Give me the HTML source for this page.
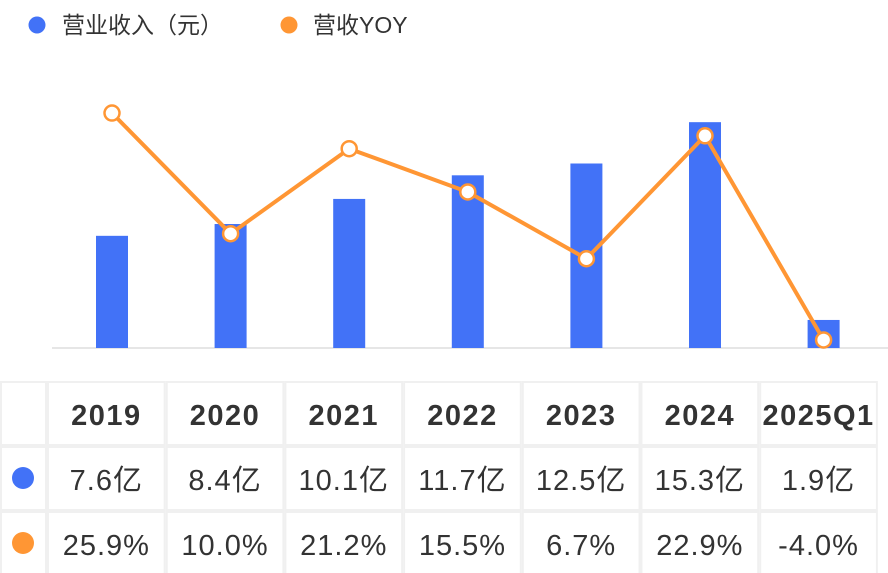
<!DOCTYPE html>
<html><head><meta charset="utf-8"><style>
body{margin:0;background:#fff;}
svg{display:block;font-family:"Liberation Sans","Noto Sans CJK SC",sans-serif;}
</style></head><body>
<svg width="888" height="573">
<g>
<circle cx="37" cy="25" r="8.5" fill="#4272f7"/>
<text x="62" y="33" font-size="23" fill="#333">营业收入（元）</text>
<circle cx="289" cy="25" r="8.5" fill="#ff9634"/>
<text x="313" y="33" font-size="23" fill="#333">营收YOY</text>
</g>
<line x1="52" y1="348" x2="888" y2="348" stroke="#e6e6e6" stroke-width="2"/>
<g id="bars"></g><g id="line"></g><g id="table"></g>
</svg>
<script>
const categories=["2019","2020","2021","2022","2023","2024","2025Q1"];
const revenue=[7.6,8.4,10.1,11.7,12.5,15.3,1.9];
const yoy=[25.9,10.0,21.2,15.5,6.7,22.9,-4.0];
const revenueLabels=["7.6亿","8.4亿","10.1亿","11.7亿","12.5亿","15.3亿","1.9亿"];
const yoyLabels=["25.9%","10.0%","21.2%","15.5%","6.7%","22.9%","-4.0%"];
const NS="http://www.w3.org/2000/svg";
const x0=112,step=118.6,base=348;
const xs=i=>x0+i*step;
const yBar=v=>base-v*14.76;
const yLine=v=>309.6-v*7.59;
function mk(t,a,p){const e=document.createElementNS(NS,t);for(const k in a)e.setAttribute(k,a[k]);p.appendChild(e);return e;}
const bars=document.getElementById('bars');
revenue.forEach((v,i)=>{const r=mk('rect',{x:xs(i)-16,y:yBar(v),width:32,height:base-yBar(v),fill:'#4272f7'},bars);

});
const lg=document.getElementById('line');
const pl=mk('polyline',{points:yoy.map((v,i)=>xs(i)+','+yLine(v)).join(' '),fill:'none',stroke:'#ff9634','stroke-width':4,'stroke-linejoin':'round'},lg);


yoy.forEach((v,i)=>{const c=mk('circle',{cx:xs(i),cy:yLine(v),r:7.5,fill:'#fff',stroke:'#ff9634','stroke-width':2.5},lg);

});
const tb=document.getElementById('table');
const rows=[381,446,511,575];const cols=[0,47];for(let i=1;i<=7;i++)cols.push(47+i*118.7);
for(let r=0;r<3;r++)for(let c=0;c<8;c++){
 const cell=mk('rect',{x:cols[c]+1,y:rows[r]+1,width:cols[c+1]-cols[c]-2,height:rows[r+1]-rows[r]-2,fill:'#fff',stroke:'#f0f0f0','stroke-width':2},tb);
 
 
}
const d1=mk('circle',{cx:23,cy:478,r:11,fill:'#4272f7'},tb);


const d2=mk('circle',{cx:23,cy:543,r:11,fill:'#ff9634'},tb);


categories.forEach((c,i)=>{const cx=(cols[i+1]+cols[i+2])/2;
 const h=mk('text',{x:cx,y:425,'text-anchor':'middle','font-size':29,'letter-spacing':1.5,'font-weight':'bold',fill:'#333'},tb);h.textContent=c;
 
 
 const a=mk('text',{x:cx,y:490,'text-anchor':'middle','font-size':29,'letter-spacing':1,fill:'#333'},tb);a.textContent=revenueLabels[i];
 
 
 const b=mk('text',{x:cx,y:555,'text-anchor':'middle','font-size':29,'letter-spacing':1,fill:'#333'},tb);b.textContent=yoyLabels[i];
 
 
});
</script>
</body></html>
